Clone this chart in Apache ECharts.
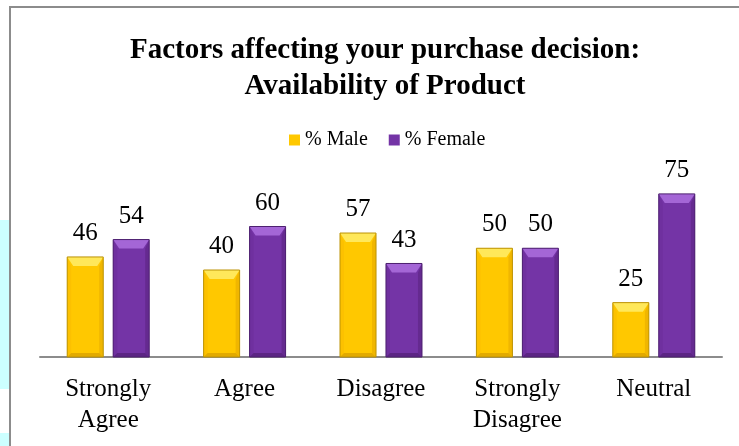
<!DOCTYPE html>
<html>
<head>
<meta charset="utf-8">
<script src="https://cdn.jsdelivr.net/npm/echarts@6/dist/echarts.min.js"></script>
<style>
html,body{margin:0;padding:0;background:#fff;}
#chart{width:739px;height:446px;}
</style>
</head>
<body>
<div id="chart"></div>
<script>
// data
const categories = ['Strongly\nAgree', 'Agree', 'Disagree', 'Strongly\nDisagree', 'Neutral']
const maleValues = [46, 40, 57, 50, 25]
const femaleValues = [54, 60, 43, 50, 75]

const serif = '"Liberation Serif", "Times New Roman", serif'

// bevel palettes
const gold = {body:'#FFC800', top:'#FFE85A', left:'#FCC100', right:'#F0B600', bottom:'#E2AA00', line:'#BC9306'}
const violet = {body:'#7434A6', top:'#A466D6', left:'#6F309F', right:'#652A90', bottom:'#5C2584', line:'#4D2070'}

// draw a bevelled bar, side = -1 (left) or 1 (right)
function bevelBar(side, pal){
  return function(params, api){
    const cat = api.value(0), val = api.value(1)
    const base = api.coord([cat, 0])
    const top = api.coord([cat, val])
    const band = api.size([1, 0])[0]
    const w = band * 0.264, gap = band * 0.073
    const cx = base[0] + side * (gap / 2 + w / 2)
    const x0 = cx - w / 2, x1 = cx + w / 2, y0 = top[1], y1 = base[1]
    const bt = 9, bs = 4
    return {
      type:'group',
      children:[
        {type:'rect', shape:{x:x0, y:y0, width:w, height:y1 - y0}, style:{fill:pal.body}},
        {type:'polygon', shape:{points:[[x0, y0], [x0 + bs, y0 + bt], [x0 + bs, y1 - bs], [x0, y1]]}, style:{fill:pal.left}},
        {type:'polygon', shape:{points:[[x1, y0], [x1 - bs, y0 + bt], [x1 - bs, y1 - bs], [x1, y1]]}, style:{fill:pal.right}},
        {type:'polygon', shape:{points:[[x0, y1], [x0 + bs, y1 - bs], [x1 - bs, y1 - bs], [x1, y1]]}, style:{fill:pal.bottom}},
        {type:'polygon', shape:{points:[[x0, y0], [x1, y0], [x1 - bs - 2, y0 + bt], [x0 + bs + 2, y0 + bt]]}, style:{fill:pal.top}},
        {type:'rect', shape:{x:x0, y:y0, width:w, height:y1 - y0}, style:{fill:null, stroke:pal.line, lineWidth:1}},
        {type:'text', style:{text:String(val), x:cx, y:y0 - 11, align:'center', verticalAlign:'bottom',
          fontSize:25, fontFamily:serif, fill:'#000'}}
      ]
    }
  }
}

const chart = echarts.init(document.getElementById('chart'))

const option = {
  backgroundColor:'#fff',
  animation:false,
  title:{
    text:'Factors affecting your purchase decision:\nAvailability of Product',
    left:380,
    top:28,
    textAlign:'center',
    textStyle:{fontFamily:serif, fontWeight:'bold', fontSize:29, lineHeight:36, color:'#000'}
  },
  legend:{
    left:284,
    top:125,
    itemWidth:11,
    itemHeight:11,
    itemGap:21,
    icon:'rect',
    textStyle:{fontFamily:serif, fontSize:20, color:'#000'},
    data:['% Male', '% Female']
  },
  graphic:[
    {type:'rect', shape:{x:0, y:220, width:9, height:169}, style:{fill:'#CCFFFF'}, silent:true},
    {type:'rect', shape:{x:0, y:433, width:9, height:13}, style:{fill:'#CCFFFF'}, silent:true},
    {type:'rect', shape:{x:10, y:7, width:760, height:460}, style:{fill:null, stroke:'#8c8c8c', lineWidth:2}, silent:true}
  ],
  grid:{left:40, right:17, top:183, bottom:89},
  xAxis:{
    type:'category',
    data:categories,
    axisLine:{lineStyle:{color:'#8c8c8c', width:2}},
    axisTick:{show:false},
    axisLabel:{fontFamily:serif, fontSize:25, lineHeight:31, color:'#000', margin:17, interval:0}
  },
  yAxis:{type:'value', min:0, max:80, show:false, splitLine:{show:false}},
  series:[
    {
      name:'% Male', type:'custom',
      itemStyle:{color:gold.body},
      renderItem:bevelBar(-1, gold),
      data:maleValues.map((v, i) => [i, v])
    },
    {
      name:'% Female', type:'custom',
      itemStyle:{color:violet.body},
      renderItem:bevelBar(1, violet),
      data:femaleValues.map((v, i) => [i, v])
    }
  ]
}

chart.setOption(option)
window.addEventListener('resize', () => chart.resize())
</script>
</body>
</html>
